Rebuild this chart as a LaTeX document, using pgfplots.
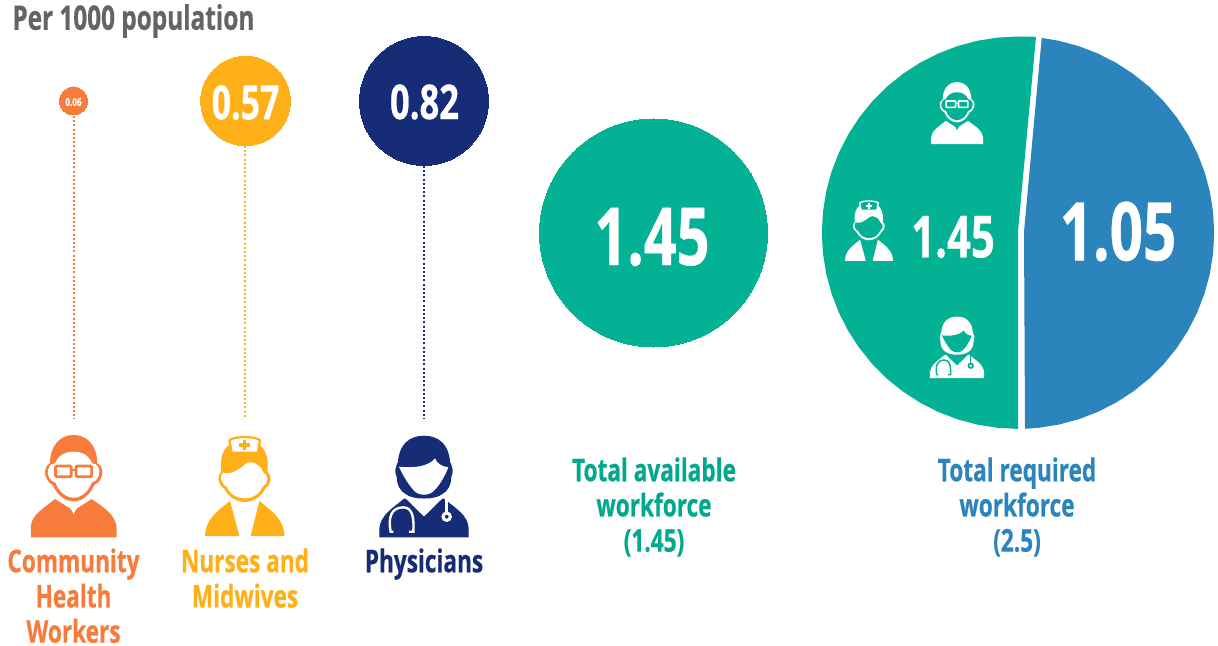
\documentclass[border=0pt]{standalone}
\usepackage{pgfplots}
\pgfplotsset{compat=1.18}
\usepackage{fontspec}
\setmainfont[FakeStretch=0.72,BoldFeatures={FakeBold=0.5}]{Open Sans}
\definecolor{cOrange}{HTML}{F77C3B}
\definecolor{cYellow}{HTML}{FFB019}
\definecolor{cNavy}{HTML}{162C76}
\definecolor{cGreen}{HTML}{03B294}
\definecolor{cBlue}{HTML}{2B84BC}
\definecolor{cGrey}{HTML}{636466}
\definecolor{cGreenText}{HTML}{00A88E}
\tikzset{
  val/.style={text=white, inner sep=0pt, font=\fontsize{#1}{#1}\selectfont\bfseries},
  lab/.style={anchor=north, inner sep=0pt, align=center, text=#1, font=\fontsize{15.7}{17.6}\selectfont\bfseries},
}
\pgfplotsset{
  bubble/.style={only marks, mark=*, color=#1, mark options={fill=#1, draw=#1, line width=0pt}},
  stem/.style={#1, line width=1pt, dash pattern=on 1pt off 1.1pt},
}

% People pictograms, drawn around their own centre with y pointing down.
% #1 x, #2 y (pixels of the layout), #3 scale, #4 ink, #5 background
\newcommand{\iconscope}[3]{\begin{scope}[shift={({#1*0.5pt},{(646-#2)*0.5pt})},x=#3*0.1667pt,y=-#3*0.1667pt]}
\newcommand{\manicon}[5]{%
 \iconscope{#1}{#2}{#3}
  \fill[#4] (-128,152) -- (-128,118) .. controls (-126,85) and (-90,65) .. (-56,37) -- (0,72) -- (54,37) .. controls (90,62) and (128,85) .. (129,125) -- (129,152) -- cycle;
  \fill[#5] (-14,56) -- (14,56) -- (0,82) -- cycle;
  \fill[#4] (-71,-70) .. controls (-70,-125) and (-40,-155) .. (0,-155) .. controls (40,-155) and (70,-125) .. (71,-70) .. controls (85,-65) and (90,-45) .. (84,-30) .. controls (78,-15) and (72,-10) .. (62,-5) .. controls (50,25) and (25,44) .. (0,44) .. controls (-25,44) and (-50,25) .. (-62,-5) .. controls (-72,-10) and (-80,-18) .. (-85,-35) .. controls (-88,-50) and (-82,-65) .. (-71,-70) -- cycle;
  \fill[#5] (-56,-70) .. controls (-45,-95) and (-25,-105) .. (0,-105) .. controls (25,-105) and (45,-95) .. (56,-70) .. controls (70,-70) and (82,-55) .. (76,-35) .. controls (70,-18) and (62,-15) .. (54,-12) .. controls (45,15) and (22,33) .. (0,33) .. controls (-22,33) and (-45,15) .. (-54,-12) .. controls (-62,-15) and (-72,-20) .. (-77,-35) .. controls (-80,-55) and (-70,-70) .. (-56,-70) -- cycle;
  \draw[#4,line width=#3*1.35pt,rounded corners=#3*0.6pt] (-54,-62) rectangle (-7,-30);
  \draw[#4,line width=#3*1.35pt,rounded corners=#3*0.6pt] (7,-62) rectangle (54,-30);
  \draw[#4,line width=#3*1.35pt] (-7,-50) -- (7,-50);
 \end{scope}}
\newcommand{\nurseicon}[5]{%
 \iconscope{#1}{#2}{#3}
  \fill[#4] (-119,148) .. controls (-118,100) and (-85,75) .. (-44,43) -- (-16,148) -- cycle;
  \fill[#4] (119,148) .. controls (118,100) and (85,75) .. (44,43) -- (18,148) -- cycle;
  \fill[#4] (-70,-45) .. controls (-75,-90) and (-65,-115) .. (-40,-130) -- (40,-130) .. controls (65,-110) and (72,-85) .. (68,-45) .. controls (82,-35) and (82,-8) .. (62,5) .. controls (50,30) and (25,46) .. (0,46) .. controls (-25,46) and (-50,30) .. (-62,5) .. controls (-82,-5) and (-84,-35) .. (-70,-45) -- cycle;
  \fill[#5] (-66,-42) .. controls (-40,-35) and (-20,-50) .. (5,-70) .. controls (20,-80) and (50,-65) .. (56,-42) .. controls (72,-35) and (72,-10) .. (54,0) .. controls (42,25) and (22,35) .. (0,35) .. controls (-22,35) and (-42,25) .. (-54,0) .. controls (-72,-8) and (-76,-32) .. (-66,-42) -- cycle;
  \filldraw[fill=#5,draw=#4,line width=#3*1.1pt,line join=round] (-46,-140) .. controls (-25,-152) and (25,-152) .. (46,-140) -- (39,-102) -- (-39,-102) -- cycle;
  \fill[#4] (-5,-140) rectangle (5,-110);
  \fill[#4] (-16,-130) rectangle (16,-120);
 \end{scope}}
\newcommand{\doctoricon}[5]{%
 \iconscope{#1}{#2}{#3}
  \fill[#4] (-134,152) -- (-134,125) .. controls (-130,85) and (-95,65) .. (-60,36) -- (-55,36) -- (0,90) -- (55,36) -- (60,36) .. controls (95,65) and (132,85) .. (134,125) -- (134,152) -- cycle;
  \fill[#4] (0,-153) .. controls (45,-153) and (75,-125) .. (78,-75) .. controls (85,-60) and (90,-45) .. (82,-30) .. controls (82,-5) and (70,15) .. (55,22) .. controls (35,40) and (-35,40) .. (-55,22) .. controls (-70,15) and (-82,-5) .. (-82,-30) .. controls (-90,-45) and (-85,-60) .. (-78,-75) .. controls (-75,-125) and (-45,-153) .. (0,-153) -- cycle;
  \fill[#5] (-75,-60) .. controls (-35,-55) and (15,-60) .. (33,-85) .. controls (38,-70) and (55,-60) .. (73,-58) .. controls (62,-30) and (45,-2) .. (30,12) .. controls (15,28) and (-15,28) .. (-30,12) .. controls (-45,-5) and (-62,-30) .. (-75,-60) -- cycle;
  \draw[#5,line width=#3*1.2pt] (-92,135) -- (-100,135) .. controls (-108,95) and (-100,62) .. (-62,62) .. controls (-32,62) and (-30,100) .. (-32,135) -- (-45,135);
  \draw[#5,line width=#3*1.2pt] (68,36) -- (68,75);
  \draw[#5,line width=#3*1.5pt,fill=#4] (68,90) circle (11);
 \end{scope}}
\begin{document}
\begin{tikzpicture}
\path[use as bounding box] (0,0) rectangle (609pt,323pt);
\begin{axis}[
  anchor=south west, at={(0,0)},
  x=0.5pt, y=0.5pt, y dir=reverse,
  xmin=0, xmax=1218, ymin=0, ymax=646,
  hide axis, clip=false, clip mode=individual,
  scale only axis,
]
% Dotted stems between the bubbles and the pictograms
\addplot[stem=cOrange] coordinates {(73.5,116) (73.5,419)};
\addplot[stem=cYellow] coordinates {(244.5,146) (244.5,419)};
\addplot[stem=cNavy] coordinates {(424,166) (424,419)};
% Bubbles: the larger ones scale with their value
\addplot[bubble=cOrange, mark size=7pt] coordinates {(73.5,101)};
\addplot[bubble=cYellow, mark size=22.4pt] coordinates {(245.5,101)};
\addplot[bubble=cNavy, mark size=32.25pt] coordinates {(424,101)};
\addplot[bubble=cGreen, mark size=57pt] coordinates {(653.5,233)};
% Required workforce: the available share
\addplot[fill=cGreen, draw=none] coordinates {
 (1036,36.8) (1018,36.5) (997.5,37.6) (977.2,40.8) (957.4,46.1) (938.2,53.5) (919.9,62.8) (902.7,74.0)
 (886.7,86.9) (872.2,101.4) (859.3,117.4) (848.1,134.6) (838.8,152.9) (831.4,172.1) (826.1,191.9)
 (822.9,212.2) (821.8,232.7) (822.9,253.2) (826.1,273.5) (831.4,293.3) (838.8,312.5) (848.1,330.8)
 (859.3,348.0) (872.2,364.0) (886.7,378.5) (902.7,391.4) (919.9,402.6) (938.2,411.9) (957.4,419.3)
 (977.2,424.6) (997.5,427.8) (1018,428.9) (1018,231)} -- cycle;
% Required workforce: the shortfall
\addplot[fill=cBlue, draw=none] coordinates {
 (1041.7,37.9) (1058.8,40.8) (1078.6,46.1) (1097.8,53.5) (1116.1,62.8) (1133.3,74.0) (1149.3,86.9)
 (1163.8,101.4) (1176.7,117.4) (1187.9,134.6) (1197.2,152.9) (1204.6,172.1) (1209.9,191.9) (1213.1,212.2)
 (1214.2,232.7) (1213.1,253.2) (1209.9,273.5) (1204.6,293.3) (1197.2,312.5) (1187.9,330.8) (1176.7,348.0)
 (1163.8,364.0) (1149.3,378.5) (1133.3,391.4) (1116.1,402.6) (1097.8,411.9) (1078.6,419.3) (1058.8,424.6)
 (1038.5,427.8) (1025,428.8) (1024,231.7)} -- cycle;
% Heading and values
\node[anchor=west, inner sep=0pt, text=cGrey, font=\fontsize{16.9}{16.9}\selectfont\bfseries] at (axis cs:12,21) {Per 1000 population};
\node[val=5.6] at (axis cs:73.5,102) {0.06};
\node[val=23.5] at (axis cs:245.5,102.5) {0.57};
\node[val=24] at (axis cs:424.5,102) {0.82};
\node[val=40] at (axis cs:652,237) {1.45};
\node[val=29] at (axis cs:953,237) {1.45};
\node[val=40.5] at (axis cs:1118,231.5) {1.05};
% Category names
\node[lab=cOrange] at (axis cs:73.5,548) {Community\\Health\\Workers};
\node[lab=cYellow] at (axis cs:245,548) {Nurses and\\Midwives};
\node[lab=cNavy] at (axis cs:424,548) {Physicians};
\node[lab=cGreenText] at (axis cs:654,457) {Total available\\workforce\\(1.45)};
\node[lab=cBlue] at (axis cs:1017,457) {Total required\\workforce\\(2.5)};
\end{axis}
% Pictograms under the stems
\manicon{73.6}{486.7}{1}{cOrange}{white}
\nurseicon{244.7}{486.7}{1}{cYellow}{white}
\doctoricon{424}{486.7}{1}{cNavy}{white}
% The same pictograms inside the pie
\manicon{957}{113.5}{0.606}{white}{cGreen}
\nurseicon{869}{231}{0.606}{white}{cGreen}
\doctoricon{957}{347.5}{0.606}{white}{cGreen}
\end{tikzpicture}
\end{document}
